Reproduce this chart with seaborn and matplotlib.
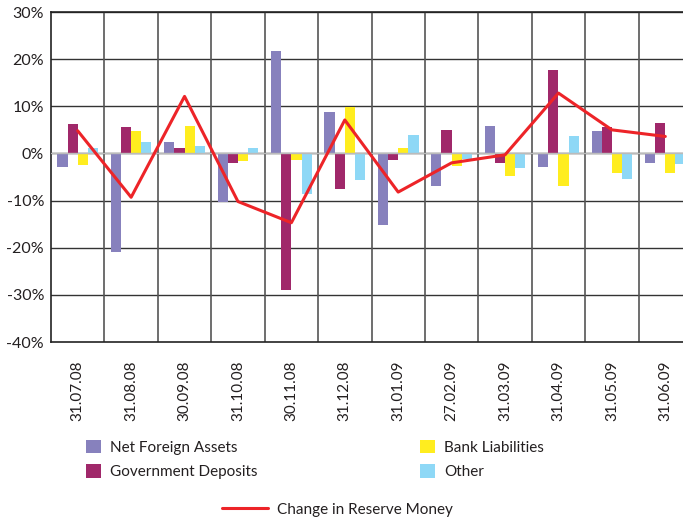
import pandas as pd
import numpy as np
import matplotlib
matplotlib.use('Agg')
import matplotlib.pyplot as plt
import seaborn as sns
from matplotlib.patches import Patch
from matplotlib.lines import Line2D

dates = ['31.07.08', '31.08.08', '30.09.08', '31.10.08', '30.11.08', '31.12.08',
         '31.01.09', '27.02.09', '31.03.09', '31.04.09', '31.05.09', '31.06.09']
net_foreign_assets = [-2.8, -21.0, 2.4, -10.3, 21.7, 8.8, -15.2, -7.0, 5.8, -2.8, 4.7, -2.0]
government_deposits = [6.2, 5.6, 1.1, -2.1, -29.0, -7.6, -1.4, 4.9, -2.0, 17.7, 5.6, 6.4]
bank_liabilities = [-2.4, 4.7, 5.8, -1.7, -1.4, 9.9, 1.1, -2.7, -4.7, -6.9, -4.1, -4.1]
other = [1.1, 2.4, 1.6, 1.1, -8.6, -5.7, 3.9, -1.2, -3.0, 3.7, -5.4, -2.2]
reserve_money = [4.8, -9.3, 12.1, -10.2, -14.7, 7.1, -8.2, -2.0, -0.3, 12.8, 5.0, 3.6]

series = ['Net Foreign Assets', 'Government Deposits', 'Bank Liabilities', 'Other']
colors = ['#8781BD', '#A0286A', '#FFED1F', '#8ED8F6']
line_color = '#ED2428'
text_color = '#231F20'

df = pd.DataFrame({
    'date': dates * 4,
    'value': net_foreign_assets + government_deposits + bank_liabilities + other,
    'series': np.repeat(series, len(dates)),
})
line_df = pd.DataFrame({'date': dates, 'value': reserve_money})

sns.set_style('white')
plt.rcParams['font.family'] = ['Lato', 'DejaVu Sans']
plt.rcParams['text.color'] = text_color

fig = plt.figure(figsize=(6.83, 5.17), dpi=100)
ax = fig.add_axes([51 / 683, 175 / 517, 641 / 683, 330 / 517])

sns.barplot(data=df, x='date', y='value', hue='series', palette=colors,
            order=dates, hue_order=series, width=0.76, ax=ax, legend=False,
            saturation=1, linewidth=0, edgecolor='none', zorder=3)
sns.lineplot(data=line_df, x='date', y='value', color=line_color, linewidth=2.2,
             sort=False, ax=ax, zorder=4)

ax.set_ylim(-40, 30)
ax.set_xlim(-0.5, len(dates) - 0.5)
ax.set_yticks(range(-40, 31, 10))
ax.set_yticklabels([f'{v}%' for v in range(-40, 31, 10)])
ax.set_xlabel('')
ax.set_ylabel('')

# grid: horizontal lines at ticks, vertical lines between categories
for v in range(-30, 31, 10):
    ax.axhline(v, color='#333333', linewidth=1.0, zorder=1)
ax.axhline(0, color='#BBBBBB', linewidth=1.0, zorder=3.5)
for i in range(1, len(dates)):
    ax.axvline(i - 0.5, color='#555555', linewidth=1.2, zorder=1)

for s in ['left', 'bottom', 'top']:
    ax.spines[s].set_color('#222222')
    ax.spines[s].set_linewidth(1.2)
ax.spines['right'].set_visible(False)

ax.tick_params(axis='x', length=0, pad=13, labelsize=11, rotation=90, labelcolor=text_color)
ax.tick_params(axis='y', length=0, pad=5, labelsize=11.5, labelcolor=text_color)
for lab in ax.get_xticklabels():
    lab.set_va('top')

handles = [Patch(facecolor=c, edgecolor='none') for c in colors]
fig.legend(handles, series, loc='upper left', bbox_to_anchor=(72 / 683, 1 - 426 / 517),
           ncol=2, frameon=False, fontsize=11, handlelength=1.0, handleheight=1.0,
           handletextpad=0.6, columnspacing=10.6, labelspacing=0.6)
fig.legend([Line2D([0], [0], color=line_color, linewidth=2.2)], ['Change in Reserve Money'],
           loc='upper left', bbox_to_anchor=(208 / 683, 1 - 489 / 517), frameon=False,
           fontsize=11, handlelength=3.0, handletextpad=0.6)

fig.savefig('out.png', dpi=100)
